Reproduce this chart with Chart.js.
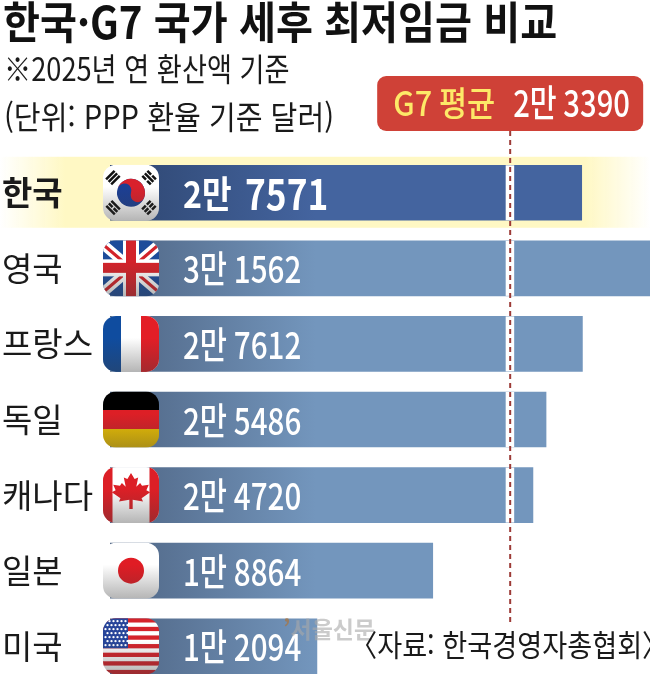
<!DOCTYPE html>
<html lang="ko">
<head>
<meta charset="utf-8">
<title>한국·G7 국가 세후 최저임금 비교</title>
<script src="https://cdn.jsdelivr.net/npm/chart.js@4"></script>
<style>
    html, body { margin: 0; padding: 0; width: 650px; height: 674px; overflow: hidden; background: #fff; }
    body { position: relative; font-family: "Noto Sans CJK KR", sans-serif; color: #1a1a1a; }
    canvas { position: absolute; left: 0; top: 0; }
    .txt { position: absolute; white-space: nowrap; transform-origin: left top; line-height: 1; }
    #title { left: 3px; top: -2px; font-size: 44px; font-weight: 700; color: #111; transform: scaleX(.913); }
    #note1 { left: 4px; top: 51px; font-size: 32px; transform: scaleX(.85); }
    #note2 { left: 4px; top: 99px; font-size: 32px; transform: scaleX(.91); }
    #source { left: 350px; top: 628px; font-size: 30px; transform: scaleX(.905); }
    #mark { left: 283px; top: 617px; font-size: 23px; font-weight: 700; color: #a9a9a9; opacity: .6; }
    #mark span { color: #b5702a; }
</style>
</head>
<body>
<canvas id="chart" width="650" height="684"></canvas>
<div class="txt" id="title">한국·G7 국가 세후 최저임금 비교</div>
<div class="txt" id="note1">※2025년 연 환산액 기준</div>
<div class="txt" id="note2">(단위: PPP 환율 기준 달러)</div>
<div class="txt" id="mark"><span>’</span>서울신문</div>
<div class="txt" id="source">〈자료: 한국경영자총협회〉</div>
<script>
const countries = ['한국', '영국', '프랑스', '독일', '캐나다', '일본', '미국'];
const wages = [27571, 31562, 27612, 25486, 24720, 18864, 12094];
const flagCodes = ['kr', 'gb', 'fr', 'de', 'ca', 'jp', 'us'];
const g7Average = 23390;
const g7Label = 'G7 평균';

const FONT = '"Noto Sans CJK KR", sans-serif';

function manwon(v) {
    return Math.floor(v / 10000) + '만 ' + String(v % 10000).padStart(4, '0');
}

// --- Flag icons (56 x 56 box, origin top left) ---
function trigram(ctx, cx, cy, angle, rows) {
    ctx.save();
    ctx.translate(cx, cy);
    ctx.rotate(angle);
    ctx.fillStyle = '#111';
    rows.forEach((broken, i) => {
        const y = -5 + i * 3.6;
        if (broken) {
            ctx.fillRect(-6, y, 5.2, 2.5);
            ctx.fillRect(0.8, y, 5.2, 2.5);
        } else {
            ctx.fillRect(-6, y, 12, 2.5);
        }
    });
    ctx.restore();
}

function drawKorea(ctx) {
    ctx.fillStyle = '#fff';
    ctx.fillRect(0, 0, 56, 56);
    const r = 14, a = Math.atan2(2, 3) - 0.25;
    ctx.save();
    ctx.translate(28, 28);
    ctx.rotate(a);
    ctx.fillStyle = '#1c3f94';
    ctx.beginPath(); ctx.arc(0, 0, r, 0, Math.PI * 2); ctx.fill();
    ctx.fillStyle = '#d9212c';
    ctx.beginPath();
    ctx.arc(0, 0, r, Math.PI, 0);
    ctx.arc(r / 2, 0, r / 2, 0, Math.PI, false);
    ctx.arc(-r / 2, 0, r / 2, 0, Math.PI, true);
    ctx.fill();
    ctx.restore();
    trigram(ctx, 10, 13, -Math.PI / 4 , [0, 0, 0]);
    trigram(ctx, 46, 13, Math.PI / 4, [1, 0, 1]);
    trigram(ctx, 10, 43, Math.PI / 4, [0, 1, 0]);
    trigram(ctx, 46, 43, -Math.PI / 4, [1, 1, 1]);
}

function drawUk(ctx) {
    ctx.fillStyle = '#1d4c9a';
    ctx.fillRect(0, 0, 56, 56);
    ctx.strokeStyle = '#fff';
    ctx.lineWidth = 10;
    ctx.beginPath(); ctx.moveTo(0, 4); ctx.lineTo(56, 52); ctx.moveTo(56, 4); ctx.lineTo(0, 52); ctx.stroke();
    ctx.strokeStyle = '#d2232a';
    ctx.lineWidth = 3.2;
    ctx.beginPath(); ctx.moveTo(0, 4); ctx.lineTo(56, 52); ctx.moveTo(56, 4); ctx.lineTo(0, 52); ctx.stroke();
    ctx.fillStyle = '#fff';
    ctx.fillRect(20, 0, 16, 56);
    ctx.fillRect(0, 19, 56, 17);
    ctx.fillStyle = '#d2232a';
    ctx.fillRect(23, 0, 10, 56);
    ctx.fillRect(0, 22.5, 56, 10);
}

function drawFrance(ctx) {
    ctx.fillStyle = '#fff';
    ctx.fillRect(0, 0, 56, 56);
    ctx.fillStyle = '#0f4c9f';
    ctx.fillRect(0, 0, 18, 56);
    ctx.fillStyle = '#e31e26';
    ctx.fillRect(38, 0, 18, 56);
}

function drawGermany(ctx) {
    ctx.fillStyle = '#000';
    ctx.fillRect(0, 0, 56, 18.5);
    ctx.fillStyle = '#dd1f26';
    ctx.fillRect(0, 18.5, 56, 19);
    ctx.fillStyle = '#f0c300';
    ctx.fillRect(0, 37.5, 56, 18.5);
}

function drawCanada(ctx) {
    ctx.fillStyle = '#fff';
    ctx.fillRect(0, 0, 56, 56);
    ctx.fillStyle = '#dc1f26';
    ctx.fillRect(0, 0, 9.5, 56);
    ctx.fillRect(46.5, 0, 9.5, 56);
    const half = [[0, -1], [.15, -.7], [.3, -.78], [.22, -.32], [.38, -.5], [.46, -.36], [.74, -.42], [.64, -.14], [.8, -.04], [.44, .26], [.5, .42], [.07, .34], [.07, .8]];
    ctx.beginPath();
    half.forEach(p => ctx.lineTo(28 + p[0] * 24, 26 + p[1] * 20));
    half.slice().reverse().forEach(p => ctx.lineTo(28 - p[0] * 24, 26 + p[1] * 20));
    ctx.closePath();
    ctx.fill();
}

function drawJapan(ctx) {
    ctx.fillStyle = '#fff';
    ctx.fillRect(0, 0, 56, 56);
    ctx.fillStyle = '#e01c24';
    ctx.beginPath(); ctx.arc(28, 28, 13, 0, Math.PI * 2); ctx.fill();
}

function drawUsa(ctx) {
    for (let i = 0; i < 13; i++) {
        ctx.fillStyle = i % 2 ? '#fff' : '#d5232b';
        ctx.fillRect(0, i * 56 / 13, 56, 56 / 13 + .5);
    }
    ctx.fillStyle = '#27459a';
    ctx.fillRect(0, 0, 25, 30);
    ctx.fillStyle = '#fff';
    for (let row = 0; row < 7; row++) {
        for (let col = 0; col < 6; col++) {
            ctx.beginPath();
            ctx.arc(2.5 + col * 4 + (row % 2) * 2, 3 + row * 4, 1.15, 0, Math.PI * 2);
            ctx.fill();
        }
    }
}

const flagPainters = { kr: drawKorea, gb: drawUk, fr: drawFrance, de: drawGermany, ca: drawCanada, jp: drawJapan, us: drawUsa };

function drawFlag(ctx, code, x, y) {
    ctx.save();
    ctx.translate(x, y);
    ctx.beginPath();
    ctx.roundRect(0, 0, 56, 56, 13);
    ctx.clip();
    flagPainters[code](ctx);
    // glossy shade towards the bottom of the icon
    const shade = ctx.createLinearGradient(0, 22, 0, 56);
    shade.addColorStop(0, 'rgba(60,60,60,0)');
    shade.addColorStop(1, 'rgba(60,60,60,.38)');
    ctx.fillStyle = shade;
    ctx.fillRect(0, 0, 56, 56);
    ctx.restore();
}

// --- Decorations tied to the scales ---
const koreaBand = {
    id: 'koreaBand',
    beforeDraw(chart) {
        const { ctx, width, scales: { y } } = chart;
        const cy = y.getPixelForValue(0);
        const band = ctx.createLinearGradient(0, 0, width, 0);
        band.addColorStop(0, 'rgba(255,248,196,0)');
        band.addColorStop(.1, '#fff8c4');
        band.addColorStop(.9, '#fff8c4');
        band.addColorStop(1, 'rgba(255,248,196,0)');
        ctx.fillStyle = band;
        ctx.fillRect(0, cy - 36, width, 71);
    }
};

const overlays = {
    id: 'overlays',
    afterDatasetsDraw(chart) {
        const { ctx, scales: { x, y } } = chart;
        const bars = chart.getDatasetMeta(0).data;
        const avgX = x.getPixelForValue(g7Average);

        // white gap where the average line crosses a bar
        bars.forEach((bar, i) => {
            if (wages[i] <= g7Average) return;
            ctx.fillStyle = '#fff';
            ctx.fillRect(avgX - 4.5, bar.y - bar.height / 2, 8.5, bar.height);
        });

        // average line
        ctx.save();
        ctx.strokeStyle = '#9d3b37';
        ctx.lineWidth = 2;
        ctx.setLineDash([5, 4]);
        ctx.beginPath();
        ctx.moveTo(avgX, 131);
        ctx.lineTo(avgX, y.getPixelForValue(countries.length - 1) - 21);
        ctx.stroke();
        ctx.restore();

        // average label box
        ctx.fillStyle = '#cf4137';
        ctx.beginPath();
        ctx.roundRect(avgX - 133, 76, 266, 55, 9);
        ctx.fill();
        ctx.textBaseline = 'middle';
        ctx.textAlign = 'left';
        drawNarrow(ctx, g7Label, avgX - 117, 103, '500 34px ' + FONT, '#fde968', .9);
        drawNarrow(ctx, manwon(g7Average), avgX + 3, 103, '500 37px ' + FONT, '#fff', .79);

        // flags and value labels
        bars.forEach((bar, i) => {
            drawFlag(ctx, flagCodes[i], 103, bar.y - 28);
            const text = manwon(wages[i]);
            if (i === 0) {
                const parts = text.split(' ');
                drawNarrow(ctx, parts[0], 183, bar.y + 1, '700 37px ' + FONT, '#fff', .87);
                drawNarrow(ctx, parts[1], 245, bar.y + 1, '700 42px ' + FONT, '#fff', .84);
            } else {
                drawNarrow(ctx, text, 183, bar.y + 1, '500 37px ' + FONT, '#fff', .8);
            }
        });
    }
};

function drawNarrow(ctx, text, px, py, font, color, sx) {
    ctx.save();
    ctx.translate(px, py);
    ctx.scale(sx, 1);
    ctx.font = font;
    ctx.fillStyle = color;
    ctx.fillText(text, 0, 0);
    ctx.restore();
}

function barFill(context) {
    const { chart, dataIndex } = context;
    const x = chart.scales.x;
    if (!chart.chartArea || !x) return '#7396bd';
    const g = chart.ctx.createLinearGradient(x.getPixelForValue(0), 0, x.getPixelForValue(12000), 0);
    if (dataIndex === 0) {
        g.addColorStop(0, '#2e4670');
        g.addColorStop(1, '#44649f');
    } else {
        g.addColorStop(0, '#4f6584');
        g.addColorStop(1, '#7396bd');
    }
    return g;
}

new Chart(document.getElementById('chart'), {
    type: 'bar',
    data: {
        labels: countries,
        datasets: [{ data: wages, backgroundColor: barFill, barThickness: 55, borderWidth: 0 }]
    },
    options: {
        indexAxis: 'y',
        responsive: false,
        animation: false,
        layout: { padding: { top: 155, left: 2, right: 0, bottom: 0 } },
        plugins: { legend: { display: false }, tooltip: { enabled: false } },
        scales: {
            x: { display: false, min: 0, max: wages[1], grid: { display: false } },
            y: {
                afterFit(scale) {
                    scale.width = 108;
                    scale.paddingTop = 0;
                    scale.paddingBottom = 0;
                },
                border: { display: false },
                grid: { display: false },
                ticks: {
                    crossAlign: 'far',
                    padding: 0,
                    color: '#1a1a1a',
                    font: ctx => ({ family: FONT, size: 33, weight: ctx.index === 0 ? '700' : '400' })
                }
            }
        }
    },
    plugins: [koreaBand, overlays]
});
</script>
</body>
</html>
